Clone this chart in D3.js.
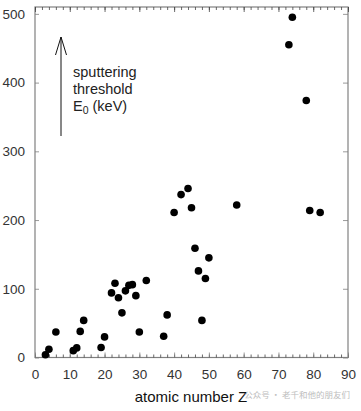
<!DOCTYPE html>
<html><head><meta charset="utf-8">
<script src="https://cdn.jsdelivr.net/npm/d3@7"></script>
<style>body{margin:0;background:#fff;}svg{display:block;}</style>
</head><body>
<svg id="c" width="361" height="411"></svg>
<script>
// Data: atomic number Z and sputtering threshold E0 (keV)
const atomicZ = [3,4,6,11,12,13,14,19,20,22,23,24,25,26,27,28,29,30,32,37,38,40,42,44,45,46,47,48,49,50,58,73,74,78,79,82];
const thresholdE0 = [4,12,37,10,14,38,54,14.5,30,94,108,87,65,97,105,106,90,37,112,31,62,211,237,246,218,159,126,54,115,145,222,455,495,374,214,211];
const xTicks = [0,10,20,30,40,50,60,70,80,90];
const yTicks = [0,100,200,300,400,500];

const svg = d3.select("#c");
const font = "Liberation Sans, Arial, sans-serif";
const L = 35, R = 348, T = 7, B = 357.5;
const x = d3.scaleLinear().domain([0,90]).range([L,R]);
const y = d3.scaleLinear().domain([0,510]).range([B,T]);
const axisColor = "#808080";

// frame
svg.append("rect").attr("x",L).attr("y",T).attr("width",R-L).attr("height",B-T)
  .attr("fill","none").attr("stroke",axisColor).attr("stroke-width",1.2);

const minorX = d3.range(0,91,2);
function styleAxis(g){
  g.select(".domain").remove();
  g.selectAll(".tick line").attr("stroke","#444").attr("stroke-width",0.8);
  g.selectAll("text").attr("font-family",font).attr("font-size","13.5px").attr("fill","#333");
}
const bx = svg.append("g").attr("transform",`translate(0,${B})`)
  .call(d3.axisBottom(x).tickValues(minorX).tickSize(-3).tickFormat(""));
styleAxis(bx);
const bxMaj = svg.append("g").attr("transform",`translate(0,${B})`)
  .call(d3.axisBottom(x).tickValues(xTicks).tickSize(-5).tickPadding(12).tickFormat(d3.format("d")));
styleAxis(bxMaj);
bxMaj.selectAll(".tick line").attr("stroke",axisColor);
const tx = svg.append("g").attr("transform",`translate(0,${T})`)
  .call(d3.axisTop(x).tickValues(minorX).tickSize(-3).tickFormat(""));
styleAxis(tx);
const txMaj = svg.append("g").attr("transform",`translate(0,${T})`)
  .call(d3.axisTop(x).tickValues(xTicks).tickSize(-5).tickFormat(""));
styleAxis(txMaj);

const ly = svg.append("g").attr("transform",`translate(${L},0)`)
  .call(d3.axisLeft(y).tickValues(yTicks).tickSize(-4).tickPadding(10).tickFormat(d3.format("d")));
styleAxis(ly);
ly.selectAll(".tick line").attr("stroke",axisColor);
const ry = svg.append("g").attr("transform",`translate(${R},0)`)
  .call(d3.axisRight(y).tickValues(yTicks).tickSize(-5).tickFormat(""));
styleAxis(ry);
ry.selectAll(".tick line").attr("stroke",axisColor);

// points
svg.append("g").selectAll("circle").data(atomicZ).join("circle")
  .attr("cx",(d)=>x(d)).attr("cy",(d,i)=>y(thresholdE0[i])).attr("r",3.8).attr("fill","#000");

// arrow
const ag = svg.append("g").attr("stroke","#111").attr("stroke-width",1).attr("fill","none");
ag.append("line").attr("x1",61).attr("y1",136).attr("x2",61).attr("y2",37);
ag.append("path").attr("d","M55.5,55 L61,37 L66.5,55");

// annotation text
const ann = svg.append("text").attr("font-family",font).attr("font-size","14.5px").attr("fill","#222");
ann.append("tspan").attr("x",73).attr("y",77).text("sputtering");
ann.append("tspan").attr("x",73).attr("y",94).text("threshold");
ann.append("tspan").attr("x",73).attr("y",111).text("E");
ann.append("tspan").attr("dy",3).attr("font-size","10.5px").text("0");
ann.append("tspan").attr("dy",-3).text(" (keV)");

// axis title
svg.append("text").attr("x",191).attr("y",402).attr("text-anchor","middle")
  .attr("font-family",font).attr("font-size","15px").attr("fill","#111").text("atomic number Z");

// watermark
svg.append("text").attr("x",350).attr("y",398).attr("text-anchor","end")
  .attr("font-family","Noto Sans CJK SC, sans-serif").attr("font-size","8.5px").attr("fill","#bdbdbd")
  .text("公众号 · 老千和他的朋友们");
</script>
</body></html>
